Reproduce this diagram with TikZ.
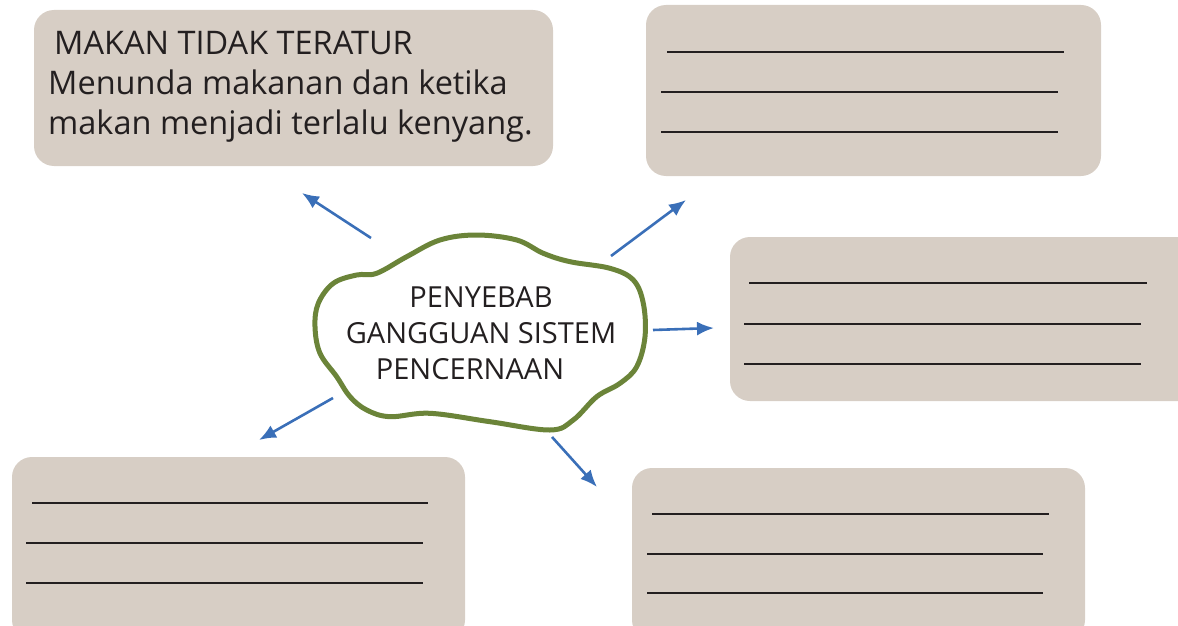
\documentclass[tikz,border=0pt]{standalone}
\usepackage{fontspec}
\setmainfont{Open Sans}
\usetikzlibrary{arrows.meta}
\definecolor{boxfill}{HTML}{D7CEC5}
\definecolor{cloudgreen}{HTML}{6B8439}
\definecolor{arrowblue}{HTML}{3A6FB8}
\definecolor{inkdark}{HTML}{231F20}
\begin{document}
\begin{tikzpicture}[x=1pt,y=-1pt,
  infobox/.style={fill=boxfill, draw=none, rounded corners=20pt},
  writeline/.style={draw=inkdark, line width=1.8pt},
  arr/.style={draw=arrowblue, line width=2.6pt, -{Latex[length=17pt,width=14pt]}},
  cloudline/.style={draw=cloudgreen, line width=5pt, fill=white},
  txt/.style={text=inkdark, inner sep=0pt}]
\useasboundingbox (0,0) rectangle (1178,626);
\clip (0,0) rectangle (1178,626);

% boxes
\path[infobox] (34,10) rectangle (553,166);
\node[inner sep=0pt, minimum width=519pt, minimum height=156pt] (b1) at (293.5,88) {};
\path[infobox] (646,5) rectangle (1101,176);
\node[inner sep=0pt, minimum width=455pt, minimum height=171pt] (b2) at (873.5,90.5) {};
\path[infobox] (730,237) rectangle (1200,401);
\node[inner sep=0pt] (b3) at (954,319) {};
\path[infobox] (12,457) rectangle (465,640);
\node[inner sep=0pt] (b4) at (238.5,541) {};
\path[infobox] (632,468) rectangle (1085,640);
\node[inner sep=0pt] (b5) at (858.5,547) {};

% writing lines
\draw[writeline] (667,52) -- (1064,52);
\draw[writeline] (661,92) -- (1058,92);
\draw[writeline] (661,132) -- (1058,132);

\draw[writeline] (749,283) -- (1147,283);
\draw[writeline] (744,324) -- (1141,324);
\draw[writeline] (744,364) -- (1141,364);

\draw[writeline] (32,503) -- (428,503);
\draw[writeline] (26,543) -- (423,543);
\draw[writeline] (26,583) -- (423,583);

\draw[writeline] (652,514) -- (1049,514);
\draw[writeline] (647,554) -- (1043,554);
\draw[writeline] (647,593) -- (1043,593);

% text of box 1
\node[txt, anchor=north west, align=left, font=\fontsize{32.5}{40}\selectfont] (t1) at (48,31)
  {\kern6pt MAKAN TIDAK TERATUR\\Menunda makanan dan ketika\\makan menjadi terlalu kenyang.};

% cloud
\draw[cloudline] plot[smooth cycle, tension=0.6] coordinates {
 (476.7,235) (440,240) (406.7,256.7) (376.7,273.3) (356.7,275) (333.3,283.3)
 (318.3,303.3) (315,326.7) (320,353.3) (336.7,376.7) (350,396.7) (366.7,410)
 (390,416.7) (430,413.3) (490,421.7) (550,430) (573.3,420) (596.7,396.7)
 (620,383.3) (636.7,366.7) (645,336.7) (643.3,303.3) (633.3,280) (610,268.3)
 (570,261.7) (543.3,253.3) (516.7,240)};
\node[txt, align=center, font=\fontsize{29}{36}\selectfont] (c) at (481,333)
  {PENYEBAB\\GANGGUAN SISTEM\\PENCERNAAN\kern22pt};

% arrows
\coordinate (a1s) at (371,238); \coordinate (a1e) at (302,193);
\coordinate (a2s) at (611,256); \coordinate (a2e) at (686,200);
\coordinate (a3s) at (653,330); \coordinate (a3e) at (714,328);
\coordinate (a4s) at (333,398); \coordinate (a4e) at (259,440);
\coordinate (a5s) at (552,437); \coordinate (a5e) at (597,487);
\draw[arr] (a1s) -- (a1e);
\draw[arr] (a2s) -- (a2e);
\draw[arr] (a3s) -- (a3e);
\draw[arr] (a4s) -- (a4e);
\draw[arr] (a5s) -- (a5e);
\end{tikzpicture}
\end{document}
